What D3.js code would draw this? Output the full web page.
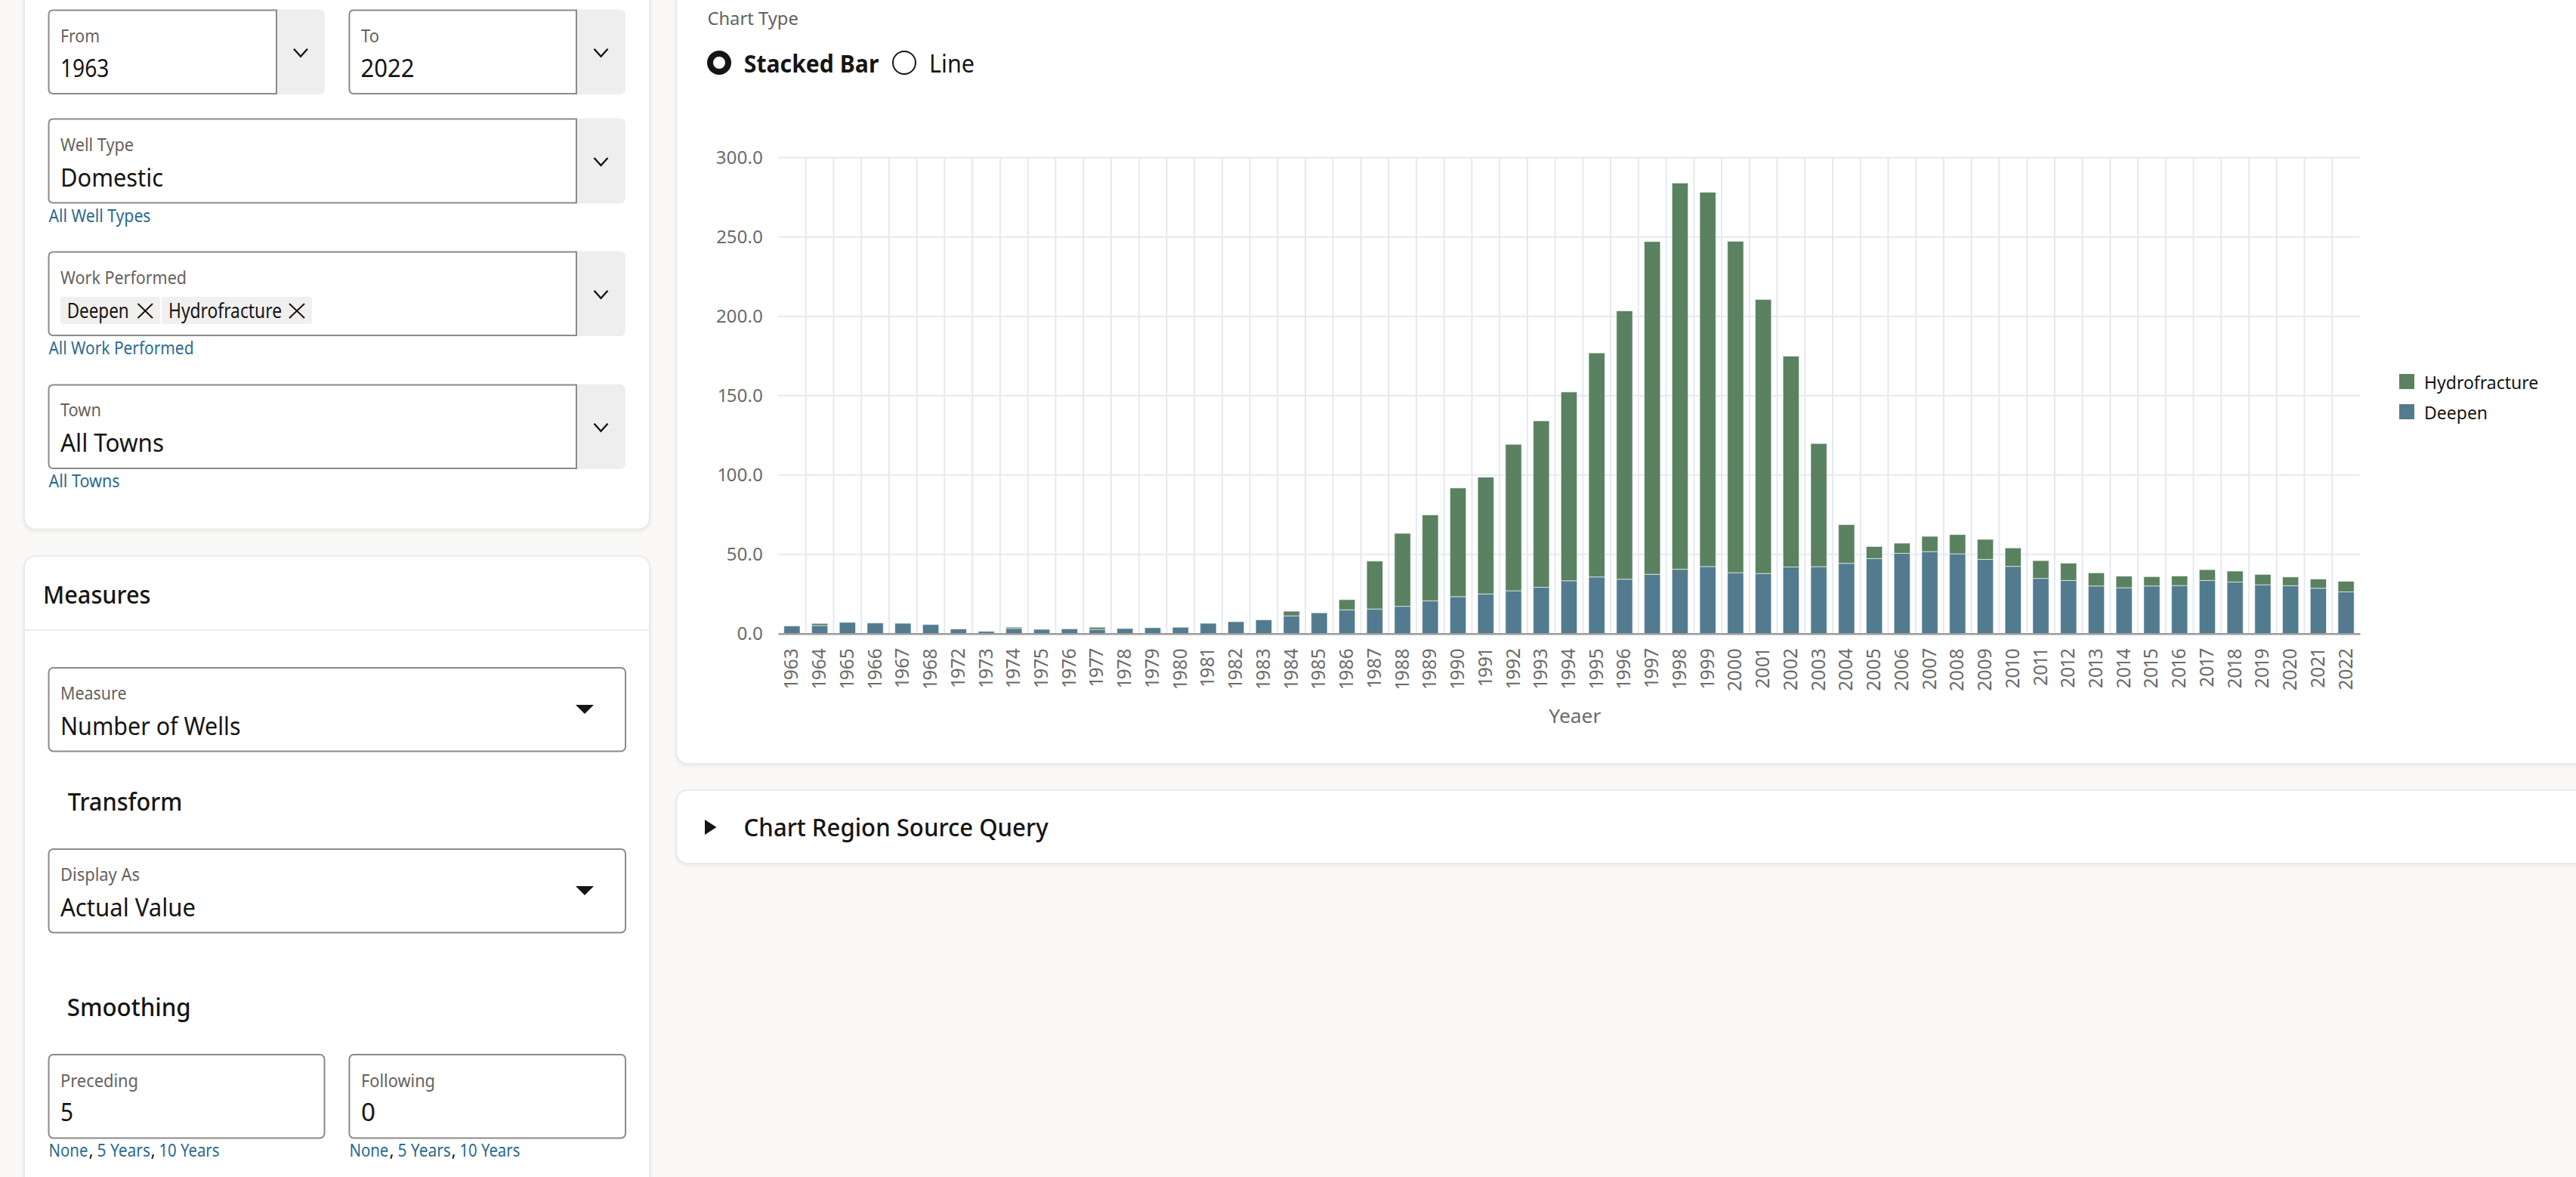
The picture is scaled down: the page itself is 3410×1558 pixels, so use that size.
<!DOCTYPE html>
<html>
<head>
<meta charset="utf-8">
<title>Wells chart</title>
<script src="https://cdn.jsdelivr.net/npm/d3@7/dist/d3.min.js"></script>
<style>
html,body{margin:0;padding:0;background:#faf9f7;overflow:hidden}
svg{display:block}
text{font-family:"Noto Sans",sans-serif}
.tick text{font-variant-numeric:proportional-nums}
</style>
</head>
<body>
<svg id="page" width="3410" height="1558" xmlns="http://www.w3.org/2000/svg"></svg>
<script>
// ---- chart data ----
const years = ["1963","1964","1965","1966","1967","1968","1972","1973","1974","1975","1976","1977","1978","1979","1980","1981","1982","1983","1984","1985","1986","1987","1988","1989","1990","1991","1992","1993","1994","1995","1996","1997","1998","1999","2000","2001","2002","2003","2004","2005","2006","2007","2008","2009","2010","2011","2012","2013","2014","2015","2016","2017","2018","2019","2020","2021","2022"];
const deepen = [4.8,5.1,7.1,6.7,6.5,5.7,2.9,1.4,3.3,2.7,3.0,2.7,3.2,3.7,4.0,6.5,7.5,8.7,11.2,13.1,15.0,15.5,17.2,20.7,23.3,25.0,27.0,29.2,33.3,35.7,34.3,37.4,40.6,42.3,38.4,37.9,42.0,42.2,44.3,47.3,50.6,51.7,50.3,46.8,42.4,34.8,33.5,30.0,28.9,30.0,30.3,33.5,32.5,30.8,30.2,28.6,26.3];
const hydrofracture = [0,1.3,0,0,0,0,0,0,0.8,0,0,1.3,0,0,0,0,0,0,2.9,0,6.4,30.2,46.0,54.1,68.5,73.6,92.3,104.9,119.0,141.2,169.1,209.7,243.4,235.9,208.9,172.7,132.9,77.6,24.4,7.6,6.4,9.6,12.1,12.6,11.6,11.2,10.9,8.3,7.3,5.9,6.0,6.8,6.9,6.5,5.5,5.8,6.7];
const seriesNames = ["Deepen","Hydrofracture"];
const legendOrder = ["Hydrofracture","Deepen"];
const yTicks = [0,50,100,150,200,250,300];
const xTitle = "Yeaer";
const colors = {Deepen:"#527b90",Hydrofracture:"#5a8160"};

const svg = d3.select("#page");
const INK="#161513", MUTED="#65625e", LINK="#2b6b8f", BORDER="#8b8a88", TICK="#6b6b6b";

function txt(x,y,s,size,fill,weight,width){
  const t=svg.append("text").attr("x",x).attr("y",y).attr("font-size",size).attr("fill",fill).attr("font-weight",weight||400).text(s);
  if(width){t.attr("textLength",width).attr("lengthAdjust","spacingAndGlyphs");}
  return t;
}
function card(x,y,w,h){
  svg.append("rect").attr("x",x).attr("y",y).attr("width",w).attr("height",h).attr("rx",15)
    .attr("fill","#fff").attr("stroke","#ebebe9").attr("stroke-width",2)
    .style("filter","drop-shadow(0 2px 2px rgba(0,0,0,.07))");
}
function box(x,y,w,h){
  svg.append("rect").attr("x",x).attr("y",y).attr("width",w).attr("height",h).attr("rx",6)
    .attr("fill","#fff").attr("stroke",BORDER).attr("stroke-width",2);
}
function combo(x1,x2,x3,y1,y2){
  svg.append("rect").attr("x",x2-8).attr("y",y1-1).attr("width",x3-x2+8).attr("height",y2-y1+2).attr("rx",7).attr("fill","#eeeeee");
  const r=6;
  svg.append("path").attr("d",`M${x2},${y1}H${x1+r}Q${x1},${y1} ${x1},${y1+r}V${y2-r}Q${x1},${y2} ${x1+r},${y2}H${x2}Z`)
    .attr("fill","#fff").attr("stroke",BORDER).attr("stroke-width",2);
  const cx=x2+(x3-x2)/2, cy=(y1+y2)/2+1;
  svg.append("path").attr("d",`M${cx-9},${cy-5}L${cx},${cy+5}L${cx+9},${cy-5}`).attr("fill","none").attr("stroke",INK).attr("stroke-width",2.4);
}
function arrow(cx,y1,y2){
  svg.append("path").attr("d",`M${cx-12},${y1}H${cx+12}L${cx},${y2}Z`).attr("fill",INK);
}
function cross(x1,y1,x2,y2){
  svg.append("path").attr("d",`M${x1},${y1}L${x2},${y2}M${x2},${y1}L${x1},${y2}`).attr("fill","none").attr("stroke",INK).attr("stroke-width",2);
}
function chip(x,y,w,h){
  svg.append("rect").attr("x",x).attr("y",y).attr("width",w).attr("height",h).attr("rx",4).attr("fill","#f1f0ee");
}
function smooth(x,y){
  txt(x,y,"None",23,LINK,400,52);
  txt(x+53,y,",",23,INK,400);
  txt(x+64,y,"5 Years",23,LINK,400,70.5);
  txt(x+135,y,",",23,INK,400);
  txt(x+146,y,"10 Years",23,LINK,400,80);
}

// ---- cards ----
card(32,-30,828,730.6);
card(32,736,828,900);
card(895.3,-30,2600,1041);
card(895.3,1045.7,2600,97.3);

// ---- filter panel ----
combo(64.5,366,430,13.5,124);
txt(80,56,"From",23,MUTED,400,52);
txt(80,102,"1963",32,INK,400,64.5);
combo(462.4,763,828,13.5,124);
txt(478,56,"To",23,MUTED,400,24);
txt(477.5,102,"2022",32,INK,400,71);

combo(64.5,763,828,157.5,268.5);
txt(80,199.7,"Well Type",23,MUTED,400,97);
txt(80,246.5,"Domestic",32,INK,400,136);
txt(64.5,294,"All Well Types",23,LINK,400,135);

combo(64.5,763,828,333.5,444);
txt(80,375.6,"Work Performed",23,MUTED,400,167);
chip(80,393,132,36);
txt(88.7,420.6,"Deepen",27,INK,400,82);
cross(182.5,402,202,421);
chip(214,393,199,36);
txt(223,420.6,"Hydrofracture",27,INK,400,150);
cross(383,402,403,421);
txt(64.5,469,"All Work Performed",23,LINK,400,192);

combo(64.5,763,828,509.5,620);
txt(80,551,"Town",23,MUTED,400,54);
txt(80,598,"All Towns",32,INK,400,137);
txt(64.5,645,"All Towns",23,LINK,400,94);

// ---- measures panel ----
txt(57,798.6,"Measures",32,INK,500,142.5);
svg.append("line").attr("x1",33).attr("x2",859).attr("y1",834).attr("y2",834).attr("stroke","#ececea").attr("stroke-width",2);
box(64.5,884,763.5,110.5);
txt(80,925.8,"Measure",23,MUTED,400,87.5);
txt(80,972.8,"Number of Wells",32,INK,400,238.5);
arrow(774,933,945);
txt(89.8,1072.8,"Transform",32,INK,500,151.5);
box(64.5,1124,763.5,110.5);
txt(80,1166,"Display As",23,MUTED,400,105);
txt(80,1212.8,"Actual Value",32,INK,400,179);
arrow(774,1173,1185);
txt(88.7,1345.3,"Smoothing",32,INK,500,164);
box(64.5,1396,365,110.5);
txt(80,1438.9,"Preceding",23,MUTED,400,103);
txt(80,1484.3,"5",32,INK,400,17);
box(462.4,1396,365.6,110.5);
txt(478,1438.9,"Following",23,MUTED,400,98);
txt(478,1484.3,"0",32,INK,400,19);
smooth(64.5,1531);
smooth(462.4,1531);

// ---- chart type radios ----
txt(936.4,32.7,"Chart Type",23,MUTED,400,120.5);
svg.append("circle").attr("cx",952).attr("cy",83).attr("r",12).attr("fill","#fff").attr("stroke",INK).attr("stroke-width",8);
txt(984.8,95.7,"Stacked Bar",32,INK,700,178.6);
svg.append("circle").attr("cx",1197).attr("cy",83).attr("r",15).attr("fill","#fff").attr("stroke",INK).attr("stroke-width",2);
txt(1230,95.7,"Line",32,INK,400,60);

// ---- chart ----
const x=d3.scaleBand().domain(years).range([1030,3124]).paddingInner(0.42).paddingOuter(0.21);
const y=d3.scaleLinear().domain([0,300]).range([838.7,208.7]);
const rows=years.map((yr,i)=>({year:yr,Deepen:deepen[i],Hydrofracture:hydrofracture[i]}));
const stacked=d3.stack().keys(seriesNames)(rows);

const grid=svg.append("g").attr("fill","none").attr("stroke","#e6e9f0").attr("stroke-width",2);
grid.selectAll("line.h").data(yTicks.slice(1)).join("line").attr("class","h")
  .attr("x1",x.range()[0]).attr("x2",x.range()[1]).attr("y1",d=>y(d)).attr("y2",d=>y(d));
grid.selectAll("line.v").data(years.slice(0,-1)).join("line").attr("class","v")
  .attr("x1",d=>x(d)+x.bandwidth()/2+x.step()/2).attr("x2",d=>x(d)+x.bandwidth()/2+x.step()/2)
  .attr("y1",y(300)).attr("y2",y(0));

const layers=svg.append("g").selectAll("g").data(stacked).join("g").attr("fill",d=>colors[d.key]);
layers.selectAll("rect").data(d=>d.filter(p=>p[1]-p[0]>0)).join("rect")
  .attr("x",d=>x(d.data.year)).attr("width",x.bandwidth())
  .attr("y",d=>y(d[1])).attr("height",d=>y(d[0])-y(d[1]))
  .attr("stroke","#fff").attr("stroke-opacity",0.6).attr("stroke-width",1);

const yAxis=svg.append("g").attr("transform",`translate(${x.range()[0]},0)`)
  .call(d3.axisLeft(y).tickValues(yTicks).tickFormat(d3.format(".1f")).tickSize(0).tickPadding(20));
yAxis.select(".domain").remove();
yAxis.selectAll("text").attr("font-size",24).attr("fill",TICK).style("font-family",'"Noto Sans",sans-serif');

const xAxis=svg.append("g").attr("transform",`translate(0,${y(0)})`)
  .call(d3.axisBottom(x).tickSize(0));
xAxis.select(".domain").attr("stroke","#9b9b9b").attr("stroke-width",2.6);
xAxis.selectAll("text").attr("font-size",24.5).attr("fill",TICK).style("font-family",'"Noto Sans",sans-serif')
  .attr("text-anchor","end").attr("dy",0)
  .attr("transform",d=>"translate(8,19.5) rotate(-90)").attr("y",0).attr("x",0);

txt(2084.8-34.5,956.5,xTitle,26,TICK,400,69);

// ---- legend ----
const legend=svg.append("g").selectAll("g").data(legendOrder).join("g");
legend.append("rect").attr("x",3176).attr("y",(d,i)=>495+i*40).attr("width",20).attr("height",20).attr("fill",d=>colors[d]);
legend.append("text").attr("x",3209).attr("y",(d,i)=>515+i*40).attr("font-size",23).attr("fill",INK).text(d=>d);

// ---- collapsed source query region ----
svg.append("path").attr("d","M933,1085L948.5,1095L933,1105Z").attr("fill",INK);
txt(984.6,1107.3,"Chart Region Source Query",32,INK,500,403);
</script>
</body>
</html>
